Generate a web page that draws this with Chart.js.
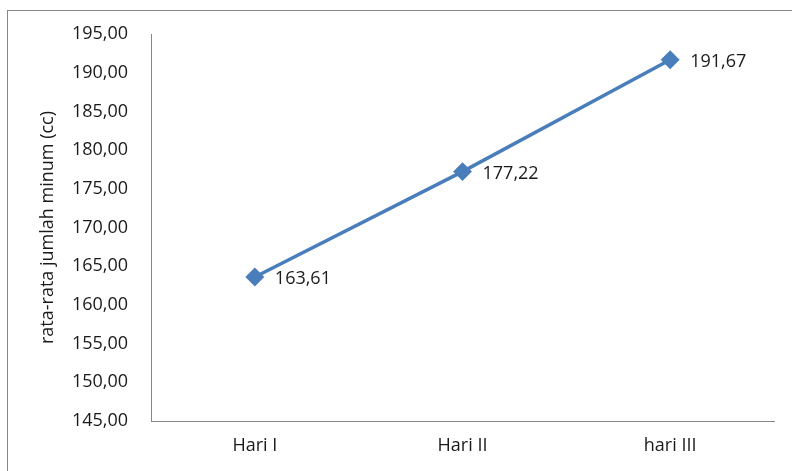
<!DOCTYPE html>
<html>
<head>
<meta charset="utf-8">
<script src="https://cdn.jsdelivr.net/npm/chart.js"></script>
<style>
  html, body { margin: 0; padding: 0; background: #fff; }
  #wrap { width: 792px; height: 471px; position: relative; }
</style>
</head>
<body>
<div id="wrap"><canvas id="chart" width="792" height="471"></canvas></div>
<script>
const categories = ['Hari I', 'Hari II', 'hari III'];
const minumValues = [163.61, 177.22, 191.67];
const yMin = 145;
const yMax = 195;
const yStep = 5;

const fontFamily = "'Open Sans', 'Noto Sans', sans-serif";
const textColor = '#1a1a1a';
const fmt = v => v.toFixed(2).replace('.', ',');

// outer frame of the chart object
const framePlugin = {
    id: 'frame',
    beforeDraw(chart) {
        const ctx = chart.ctx;
        ctx.save();
        ctx.fillStyle = '#fff';
        ctx.fillRect(0, 0, chart.width, chart.height);
        ctx.strokeStyle = '#868686';
        ctx.lineWidth = 1;
        ctx.strokeRect(7.5, 10.5, chart.width + 10, chart.height + 10);
        ctx.restore();
    }
};

// value labels to the right of each point
const labelPlugin = {
    id: 'valueLabels',
    afterDatasetsDraw(chart) {
        const ctx = chart.ctx;
        const meta = chart.getDatasetMeta(0);
        ctx.save();
        ctx.font = '18px ' + fontFamily;
        ctx.fillStyle = textColor;
        ctx.textAlign = 'left';
        ctx.textBaseline = 'middle';
        meta.data.forEach((pt, i) => {
            ctx.fillText(fmt(minumValues[i]), pt.x + 20, pt.y + 2);
        });
        ctx.restore();
    }
};

new Chart(document.getElementById('chart'), {
    type: 'line',
    data: {
        labels: categories,
        datasets: [{
            data: minumValues,
            borderColor: '#4A7EBB',
            backgroundColor: '#4A7EBB',
            borderWidth: 3.5,
            pointStyle: 'rectRot',
            pointRadius: 7,
            pointHoverRadius: 7,
            tension: 0
        }]
    },
    options: {
        responsive: false,
        animation: false,
        layout: { padding: { left: 0, top: 34, right: 18, bottom: 0 } },
        plugins: {
            legend: { display: false },
            tooltip: { enabled: false }
        },
        scales: {
            x: {
                offset: true,
                grid: { display: false, drawTicks: false },
                border: { display: true, color: '#868686', width: 1 },
                ticks: {
                    padding: 14,
                    color: textColor,
                    font: { family: fontFamily, size: 18 }
                },
                afterFit(scale) { scale.height = 50; }
            },
            y: {
                min: yMin,
                max: yMax,
                grid: { display: false, drawTicks: false },
                border: { display: true, color: '#868686', width: 1 },
                ticks: {
                    stepSize: yStep,
                    padding: 23,
                    color: textColor,
                    font: { family: fontFamily, size: 18 },
                    callback: v => fmt(v)
                },
                title: {
                    display: true,
                    text: 'rata-rata jumlah minum (cc)',
                    color: textColor,
                    font: { family: fontFamily, size: 18 },
                    padding: { top: 37, bottom: 0 }
                },
                afterFit(scale) { scale.width = 151; }
            }
        }
    },
    plugins: [framePlugin, labelPlugin]
});
</script>
</body>
</html>
